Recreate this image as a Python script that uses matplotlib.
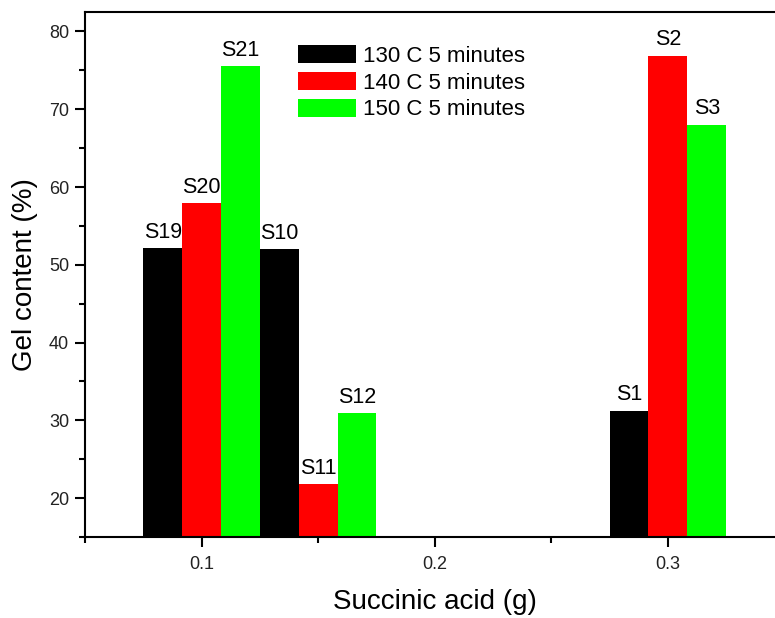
import matplotlib
matplotlib.use('Agg')
from matplotlib import pyplot as plt
from matplotlib.ticker import MultipleLocator
import numpy as np

plt.rcParams['font.family'] = ['Liberation Sans', 'DejaVu Sans']

# succinic acid amounts (g) for each group
conc = [0.1, 0.15, 0.3]

# gel content (%)
gel_130 = [52.1, 52.0, 31.2]
gel_140 = [57.9, 21.8, 76.9]
gel_150 = [75.5, 30.9, 68.0]

names_130 = ['S19', 'S10', 'S1']
names_140 = ['S20', 'S11', 'S2']
names_150 = ['S21', 'S12', 'S3']

series_labels = ['130 C 5 minutes', '140 C 5 minutes', '150 C 5 minutes']
colors = ['#000000', '#ff0000', '#00ff00']

W, H = 775, 618
fig = plt.figure(figsize=(W / 100, H / 100), dpi=100)
ax = fig.add_axes([85 / W, (H - 537) / H, 699.5 / W, (537 - 12) / H])

bw = 1 / 60.
x = np.array(conc)
for k, (vals, names) in enumerate([(gel_130, names_130), (gel_140, names_140), (gel_150, names_150)]):
    bars = ax.bar(x + (k - 1) * bw, vals, width=bw, color=colors[k], label=series_labels[k],
                  linewidth=0, zorder=2)
    for b, n in zip(bars, names):
        ax.annotate(n, (b.get_x() + b.get_width() / 2, b.get_height()), xytext=(0, 4),
                    textcoords='offset points', ha='center', va='bottom', fontsize=15.5)

ax.set_xlim(0.05, 0.35)
ax.set_ylim(15, 82.5)
ax.set_xticks([0.1, 0.2, 0.3])
ax.set_xticklabels(['0.1', '0.2', '0.3'])
ax.xaxis.set_minor_locator(MultipleLocator(0.05))
ax.set_yticks([20, 30, 40, 50, 60, 70, 80])
ax.yaxis.set_minor_locator(MultipleLocator(5))

for s in ['left', 'top', 'bottom']:
    ax.spines[s].set_linewidth(1.5)
ax.spines['right'].set_visible(False)

ax.tick_params(which='major', length=7.5, width=1.5, labelsize=13, labelcolor='#222222')
ax.tick_params(which='minor', length=4, width=1.5)
ax.tick_params(axis='x', which='major', pad=6)
ax.tick_params(axis='y', which='major', pad=4)

ax.set_xlabel('Succinic acid (g)', fontsize=20, labelpad=12)
ax.set_ylabel('Gel content (%)', fontsize=20, labelpad=8)

ax.legend(loc='upper left', bbox_to_anchor=(298 / W, 1 - 45 / H), bbox_transform=fig.transFigure,
          frameon=False, fontsize=16, handlelength=2.6, handleheight=0.9,
          handletextpad=0.32, labelspacing=0.22, borderpad=0, borderaxespad=0)

fig.savefig('out.png', dpi=100)
